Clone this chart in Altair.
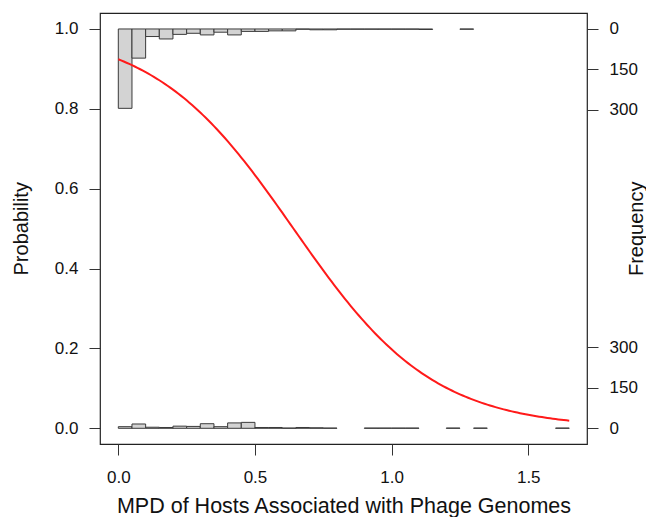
import altair as alt
import pandas as pd

# ---- data ----
top_bin_starts = [0.00, 0.05, 0.10, 0.15, 0.20, 0.25, 0.30, 0.35, 0.40, 0.45, 0.50, 0.55,
                  0.60, 0.65, 0.70, 0.75, 0.80, 0.85, 0.90, 0.95, 1.00, 1.05, 1.10, 1.25]
top_counts = [294, 108, 28, 37, 20, 16, 22, 12, 22, 9, 9, 7,
              7, 1, 3, 3, 1, 1, 1, 1, 1, 1, 2, 1]

bottom_bin_starts = [0.00, 0.05, 0.10, 0.15, 0.20, 0.25, 0.30, 0.35, 0.40, 0.45, 0.50, 0.55,
                     0.60, 0.65, 0.70, 0.75, 0.90, 0.95, 1.00, 1.05, 1.20, 1.30, 1.60]
bottom_counts = [6, 16, 4, 3, 8, 7, 17, 6, 20, 22, 3, 3,
                 1, 3, 2, 1, 1, 1, 1, 1, 1, 1, 1]

bin_width = 0.05
count_scale = 0.000676          # probability units per histogram count
fit_intercept = 2.50            # fitted logistic model
fit_slope = -3.90
x_min_data, x_max_data = 0.0, 1.65

x_ticks = [0.0, 0.5, 1.0, 1.5]
prob_ticks = [0.0, 0.2, 0.4, 0.6, 0.8, 1.0]
freq_ticks = [0, 150, 300]

FONT = "Liberation Sans"

hist_df = pd.DataFrame({
    "group": ["top"] * len(top_bin_starts) + ["bottom"] * len(bottom_bin_starts),
    "start": top_bin_starts + bottom_bin_starts,
    "count": top_counts + bottom_counts,
})

xscale = alt.Scale(domain=[-0.067, 1.715], nice=False, zero=False)
yscale = alt.Scale(domain=[-0.0393, 1.040], nice=False, zero=False)

x_axis = alt.Axis(values=x_ticks, format=".1f", domain=False, grid=False,
                  tickSize=11, tickColor="#333333", labelFontSize=17, labelPadding=14.5,
                  labelColor="#111111", labelFont=FONT,
                  title="MPD of Hosts Associated with Phage Genomes",
                  titleFont=FONT, titleFontSize=21.5, titleFontWeight="normal",
                  titleColor="#111111", titleBaseline="alphabetic", titleAlign="center",
                  titleX=243.5, titleY=68)

right_vals = [1 - f * count_scale for f in freq_ticks] + [f * count_scale for f in freq_ticks]
right_axis = alt.Axis(orient="right", values=right_vals, domain=False, grid=False,
                      tickSize=11, tickColor="#333333", labelFontSize=17, labelPadding=11,
                      labelColor="#111111", labelFont=FONT,
                      labelExpr=f"datum.value > 0.5 ? format((1 - datum.value) / {count_scale}, '.0f') : format(datum.value / {count_scale}, '.0f')",
                      title="Frequency", titleFont=FONT, titleFontSize=20,
                      titleFontWeight="normal", titleColor="#111111",
                      titleAngle=270, titleBaseline="alphabetic", titleAlign="center",
                      titleX=55, titleY=215.3)

left_axis = alt.Axis(orient="left", values=prob_ticks, format=".1f", domain=False, grid=False,
                     tickSize=11, tickColor="#333333", labelFontSize=17, labelPadding=11,
                     labelColor="#111111", labelFont=FONT,
                     title="Probability", titleFont=FONT, titleFontSize=20,
                     titleFontWeight="normal", titleColor="#111111",
                     titleAngle=270, titleBaseline="alphabetic", titleAlign="center",
                     titleX=-72.5, titleY=215.3)

hist = alt.Chart(hist_df).transform_calculate(
    end=f"datum.start + {bin_width}",
    lo=f"datum.group == 'top' ? 1 - datum.count * {count_scale} : 0",
    hi=f"datum.group == 'top' ? 1 : datum.count * {count_scale}",
).mark_rect(fill="#d3d3d3", stroke="#3a3a3a", strokeWidth=1).encode(
    x=alt.X("start:Q", scale=xscale, axis=x_axis),
    x2="end:Q",
    y=alt.Y("lo:Q", scale=yscale, axis=right_axis),
    y2="hi:Q",
)

curve = alt.Chart(alt.sequence(x_min_data, x_max_data + 0.005, 0.01, as_="x")).transform_calculate(
    p=f"1 / (1 + exp(-({fit_intercept} + ({fit_slope}) * datum.x)))"
).mark_line(color="#ff1a1a", strokeWidth=2).encode(
    x=alt.X("x:Q", scale=xscale, axis=x_axis),
    y=alt.Y("p:Q", scale=yscale, axis=left_axis),
)

chart = alt.layer(hist, curve).resolve_axis(y="independent").properties(
    width=487, height=431,
    background="white",
    autosize=alt.AutoSizeParams(type="none"),
    padding={"left": 92, "top": 5, "right": 59, "bottom": 73},
).configure_view(stroke="#222222", strokeWidth=1.2)

chart.save("out.html", embed_options={"renderer": "svg", "actions": False})
